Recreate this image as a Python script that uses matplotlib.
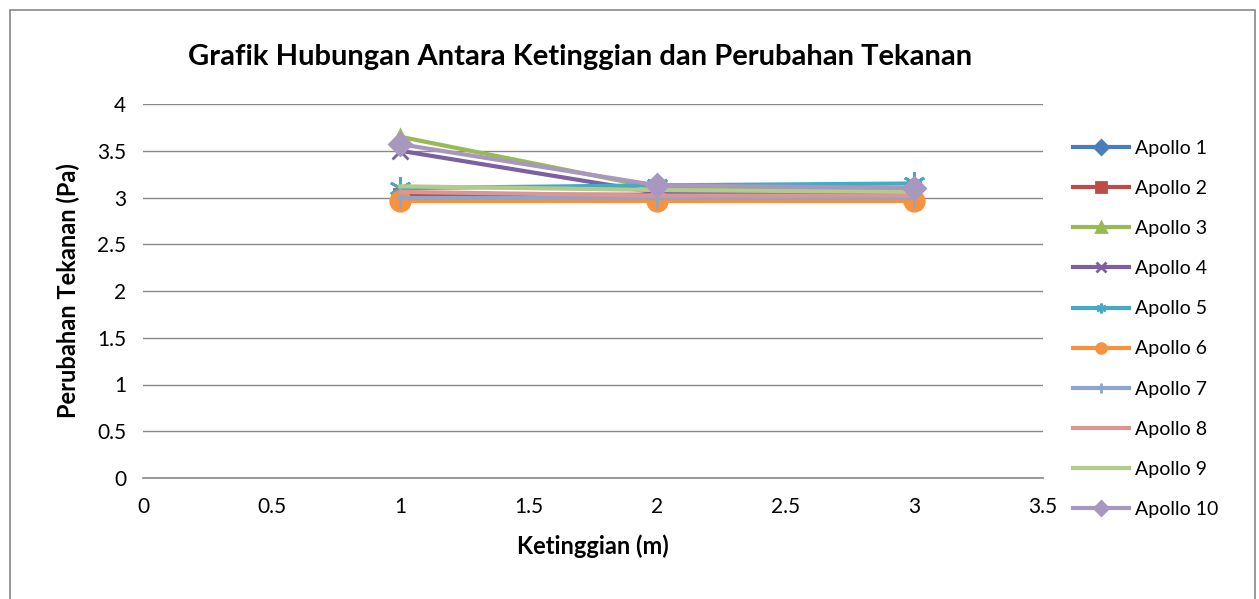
import matplotlib
matplotlib.use("Agg")
import matplotlib.pyplot as plt
from matplotlib.patches import Rectangle

plt.rcParams['font.family'] = ['Lato', 'DejaVu Sans']

x_vals = [1, 2, 3]
series_names = ["Apollo 1", "Apollo 2", "Apollo 3", "Apollo 4", "Apollo 5",
                "Apollo 6", "Apollo 7", "Apollo 8", "Apollo 9", "Apollo 10"]
apollo1 = [3.00, 3.00, 3.00]
apollo2 = [3.03, 3.03, 3.10]
apollo3 = [3.65, 3.10, 3.08]
apollo4 = [3.50, 3.05, 3.05]
apollo5 = [3.10, 3.13, 3.15]
apollo6 = [2.96, 2.96, 2.96]
apollo7 = [3.00, 3.00, 3.00]
apollo8 = [3.06, 3.02, 3.02]
apollo9 = [3.12, 3.08, 3.06]
apollo10 = [3.57, 3.13, 3.10]
all_series = [apollo1, apollo2, apollo3, apollo4, apollo5,
              apollo6, apollo7, apollo8, apollo9, apollo10]

colors = ["#4A7EBB", "#BE4B48", "#98B954", "#7D60A0", "#46AAC5",
          "#F69240", "#8EA5CB", "#D99694", "#B3CB8A", "#A897BF"]
markers = ["D", "s", "^", "x", (6, 2, 0), "o", "|", None, None, "D"]
msizes = [5, 8, 10, 12, 16, 14, 14, 0, 0, 11]

fig = plt.figure(figsize=(12.59, 5.99), dpi=100)
fig.patches.append(Rectangle((10/1259, -0.01), 1245/1259, 1 - 10/599 + 0.01,
                             transform=fig.transFigure,
                             fill=False, edgecolor="#888888", linewidth=1.2))
ax = fig.add_axes([143/1259, 1 - 478/599, 900/1259, 374/599])

for name, vals, c, m, ms in zip(series_names, all_series, colors, markers, msizes):
    ax.plot(x_vals, vals, color=c, linewidth=3, marker=m, markersize=ms,
            markeredgecolor=c, markeredgewidth=2, label=name)

ax.set_xlim(0, 3.5)
ax.set_ylim(0, 4)
ax.set_xticks([0, 0.5, 1, 1.5, 2, 2.5, 3, 3.5])
ax.set_xticklabels(["0", "0.5", "1", "1.5", "2", "2.5", "3", "3.5"])
ax.set_yticks([0, 0.5, 1, 1.5, 2, 2.5, 3, 3.5, 4])
ax.set_yticklabels(["0", "0.5", "1", "1.5", "2", "2.5", "3", "3.5", "4"])
ax.yaxis.grid(True, color="#888888", linewidth=1)
ax.set_axisbelow(True)
for s in ["top", "right", "left", "bottom"]:
    ax.spines[s].set_visible(False)
ax.axhline(0, color="#888888", linewidth=1.2, zorder=0, clip_on=False)
ax.tick_params(length=0, labelsize=15, pad=12)
ax.tick_params(axis="x", pad=14)

ax.set_xlabel("Ketinggian (m)", fontsize=17, fontweight="bold", labelpad=12)
ax.set_ylabel("Perubahan Tekanan (Pa)", fontsize=17, fontweight="bold", labelpad=12)
fig.text(580/1259, 1 - 57/599, "Grafik Hubungan Antara Ketinggian dan Perubahan Tekanan",
         ha="center", va="center", fontsize=21, fontweight="bold")

leg = ax.legend(loc="upper left", bbox_to_anchor=((1065 - 143)/900, (478 - 132)/374),
                frameon=False, fontsize=14, handlelength=2.9, labelspacing=1.19,
                handletextpad=0.3, borderaxespad=0)
for h in leg.legend_handles:
    h.set_markersize(7)

fig.savefig("out.png", dpi=100)
